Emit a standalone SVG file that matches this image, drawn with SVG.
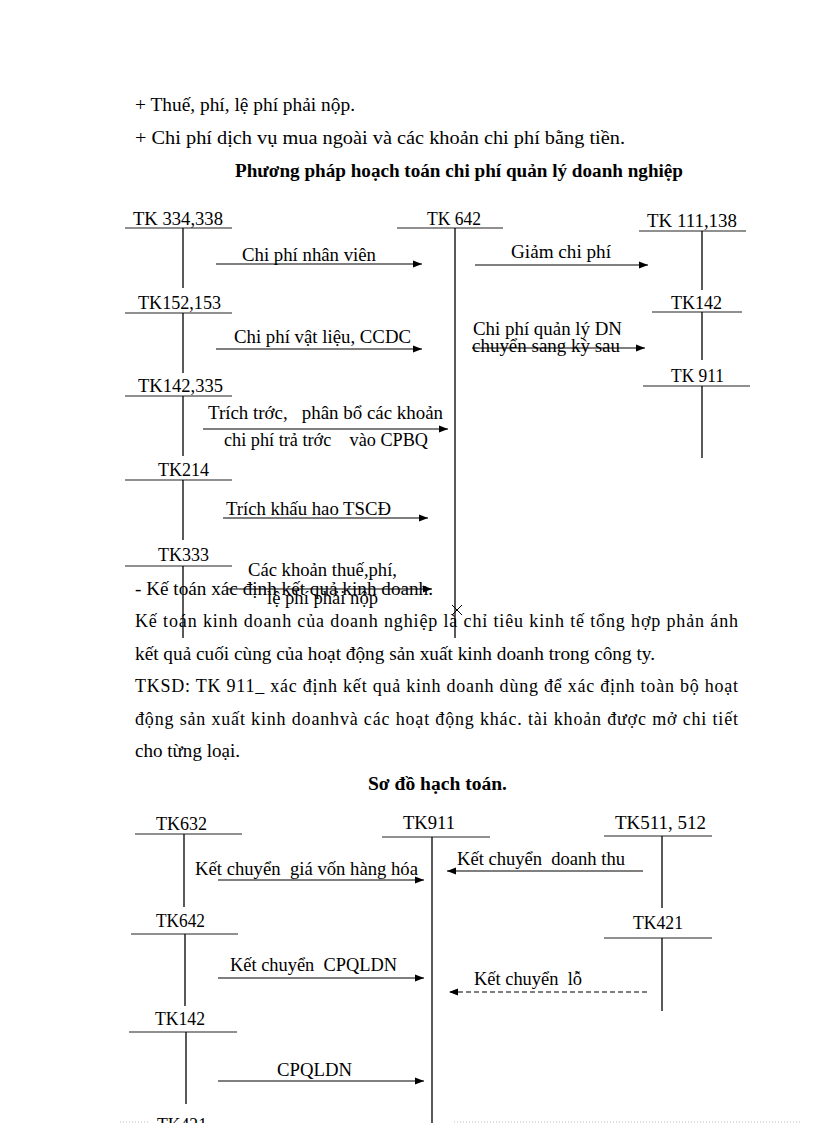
<svg xmlns="http://www.w3.org/2000/svg" width="816" height="1123" viewBox="0 0 816 1123">
<style>
text{font-family:"Liberation Serif","Times New Roman",serif;font-size:18px;fill:#000;white-space:pre}
.b{font-weight:bold}
.h{stroke:#222;stroke-width:1.2;fill:none}
.v{stroke:#000;stroke-width:1.3;fill:none}
.c{stroke:#000;stroke-width:1.2;fill:none;marker-end:url(#ah)}
.d{stroke-dasharray:5 3}
.pg{stroke:#bbb;stroke-width:1;stroke-dasharray:1 2}
</style>
<defs>
<marker id="ah" markerUnits="userSpaceOnUse" markerWidth="10" markerHeight="8" refX="9" refY="4" orient="auto">
<path d="M0,0.5 L9,4 L0,7.5 z" fill="#000"/>
</marker>
</defs>
<rect width="816" height="1123" fill="#fff"/>

<g id="intro">
<text x="135" y="111" textLength="220" lengthAdjust="spacingAndGlyphs">+ Thuế, phí, lệ phí phải nộp.</text>
<text x="135" y="144" textLength="490" lengthAdjust="spacingAndGlyphs">+ Chi phí dịch vụ mua ngoài và các khoản chi phí bằng tiền.</text>
<text x="235" y="177" class="b" textLength="448" lengthAdjust="spacingAndGlyphs">Phương pháp hoạch toán chi phí quản lý doanh nghiệp</text>
</g>

<g id="tk334-338"><text x="133" y="225" textLength="90" lengthAdjust="spacingAndGlyphs">TK 334,338</text><line class="h" x1="125" y1="228" x2="232" y2="228"/><line class="v" x1="183" y1="228" x2="183" y2="288"/></g>
<g id="tk152-153"><text x="138" y="309" textLength="83" lengthAdjust="spacingAndGlyphs">TK152,153</text><line class="h" x1="125" y1="313" x2="232" y2="313"/><line class="v" x1="183" y1="313" x2="183" y2="373"/></g>
<g id="tk142-335"><text x="138" y="392" textLength="85" lengthAdjust="spacingAndGlyphs">TK142,335</text><line class="h" x1="125" y1="396" x2="232" y2="396"/><line class="v" x1="183" y1="396" x2="183" y2="456"/></g>
<g id="tk214"><text x="158" y="476" textLength="51" lengthAdjust="spacingAndGlyphs">TK214</text><line class="h" x1="125" y1="480" x2="232" y2="480"/><line class="v" x1="183" y1="480" x2="183" y2="540"/></g>
<g id="tk333"><text x="158" y="561" textLength="51" lengthAdjust="spacingAndGlyphs">TK333</text><line class="h" x1="125" y1="566" x2="232" y2="566"/><line class="v" x1="183" y1="566" x2="183" y2="638"/></g>
<g id="tk642"><text x="427" y="225" textLength="54" lengthAdjust="spacingAndGlyphs">TK 642</text><line class="h" x1="397" y1="228" x2="503" y2="228"/><line class="v" x1="455" y1="228" x2="455" y2="638"/></g>
<g id="tk111-138"><text x="647" y="227" textLength="90" lengthAdjust="spacingAndGlyphs">TK 111,138</text><line class="h" x1="639" y1="231" x2="746" y2="231"/><line class="v" x1="702" y1="231" x2="702" y2="290"/></g>
<g id="tk142-r"><text x="671" y="309" textLength="51" lengthAdjust="spacingAndGlyphs">TK142</text><line class="h" x1="652" y1="312" x2="742" y2="312"/><line class="v" x1="702" y1="312" x2="702" y2="360"/></g>
<g id="tk911-r"><text x="671" y="382" textLength="53" lengthAdjust="spacingAndGlyphs">TK 911</text><line class="h" x1="643" y1="386" x2="750" y2="386"/><line class="v" x1="702" y1="386" x2="702" y2="458"/></g>

<g id="connectors1">
<line class="c" x1="216" y1="264" x2="422" y2="264"/>
<line class="c" x1="216" y1="349" x2="422" y2="349"/>
<line class="c" x1="203" y1="429" x2="448" y2="429"/>
<line class="c" x1="223" y1="518" x2="428" y2="518"/>
<line class="c" x1="228" y1="589" x2="432" y2="589"/>
<line class="c" x1="475" y1="265" x2="648" y2="265"/>
<line class="c" x1="472" y1="348" x2="645" y2="348"/>
</g>
<g id="labels1">
<text x="242" y="261" textLength="134" lengthAdjust="spacingAndGlyphs">Chi phí nhân viên</text>
<text x="234" y="343" textLength="177" lengthAdjust="spacingAndGlyphs">Chi phí vật liệu, CCDC</text>
<text x="208" y="419" textLength="235" lengthAdjust="spacingAndGlyphs">Trích trớc,   phân bổ các khoản</text>
<text x="224" y="446" textLength="204" lengthAdjust="spacingAndGlyphs">chi phí trả trớc    vào CPBQ</text>
<text x="226" y="515" textLength="165" lengthAdjust="spacingAndGlyphs">Trích khấu hao TSCĐ</text>
<text x="248" y="576" textLength="149" lengthAdjust="spacingAndGlyphs">Các khoản thuế,phí,</text>
<text x="267" y="604" textLength="111" lengthAdjust="spacingAndGlyphs">lệ phí phải nộp</text>
<text x="511" y="258" textLength="100" lengthAdjust="spacingAndGlyphs">Giảm chi phí</text>
<text x="473" y="335" textLength="149" lengthAdjust="spacingAndGlyphs">Chi phí quản lý DN</text>
<text x="472" y="352" textLength="148" lengthAdjust="spacingAndGlyphs">chuyển sang kỳ sau</text>
</g>
<g id="xmark"><line x1="452" y1="605" x2="462" y2="615" stroke="#000"/><line x1="452" y1="615" x2="462" y2="605" stroke="#000"/></g>

<g id="paragraph">
<text x="135" y="595" textLength="298" lengthAdjust="spacingAndGlyphs">- Kế toán xác định kết quả kinh doanh.</text>
<text x="135" y="627" textLength="603" lengthAdjust="spacing">Kế toán kinh doanh của doanh nghiệp là chỉ tiêu kinh tế tổng hợp phản ánh</text>
<text x="135" y="660" textLength="520" lengthAdjust="spacingAndGlyphs">kết quả cuối cùng của hoạt động sản xuất kinh doanh trong công ty.</text>
<text x="135" y="692" textLength="603" lengthAdjust="spacing">TKSD: TK 911_ xác định kết quả kinh doanh dùng để xác định toàn bộ hoạt</text>
<text x="135" y="725" textLength="603" lengthAdjust="spacing">động sản xuất kinh doanhvà các hoạt động khác. tài khoản được mở chi tiết</text>
<text x="135" y="757" textLength="105" lengthAdjust="spacingAndGlyphs">cho từng loại.</text>
<text x="368" y="790" class="b" textLength="139" lengthAdjust="spacingAndGlyphs">Sơ đồ hạch toán.</text>
</g>

<g id="tk632"><text x="156" y="830" textLength="51" lengthAdjust="spacingAndGlyphs">TK632</text><line class="h" x1="135" y1="834" x2="242" y2="834"/><line class="v" x1="184" y1="834" x2="184" y2="907"/></g>
<g id="tk911"><text x="403" y="829" textLength="52" lengthAdjust="spacingAndGlyphs">TK911</text><line class="h" x1="382" y1="837" x2="490" y2="837"/><line class="v" x1="432" y1="837" x2="432" y2="1123"/></g>
<g id="tk511-512"><text x="615" y="829" textLength="91" lengthAdjust="spacingAndGlyphs">TK511, 512</text><line class="h" x1="604" y1="836" x2="712" y2="836"/><line class="v" x1="662" y1="836" x2="662" y2="908"/></g>
<g id="tk642-b"><text x="156" y="927" textLength="49" lengthAdjust="spacingAndGlyphs">TK642</text><line class="h" x1="131" y1="934" x2="238" y2="934"/><line class="v" x1="185" y1="934" x2="185" y2="1006"/></g>
<g id="tk421-r"><text x="633" y="929" textLength="50" lengthAdjust="spacingAndGlyphs">TK421</text><line class="h" x1="604" y1="938" x2="712" y2="938"/><line class="v" x1="662" y1="938" x2="662" y2="1011"/></g>
<g id="tk142-b"><text x="155" y="1025" textLength="50" lengthAdjust="spacingAndGlyphs">TK142</text><line class="h" x1="129" y1="1032" x2="237" y2="1032"/><line class="v" x1="186" y1="1032" x2="186" y2="1104"/></g>
<g id="tk421-b"><text x="157" y="1131" textLength="50" lengthAdjust="spacingAndGlyphs">TK421</text></g>

<g id="connectors2">
<line class="c" x1="218" y1="880" x2="424" y2="880"/>
<line class="c" x1="643" y1="871" x2="447" y2="871"/>
<line class="c" x1="218" y1="978" x2="424" y2="978"/>
<line class="c d" x1="647" y1="992" x2="449" y2="992"/>
<line class="c" x1="218" y1="1081" x2="424" y2="1081"/>
</g>
<g id="labels2">
<text x="195" y="875" textLength="223" lengthAdjust="spacingAndGlyphs">Kết chuyển  giá vốn hàng hóa</text>
<text x="457" y="865" textLength="168" lengthAdjust="spacingAndGlyphs">Kết chuyển  doanh thu</text>
<text x="230" y="971" textLength="167" lengthAdjust="spacingAndGlyphs">Kết chuyển  CPQLDN</text>
<text x="474" y="985" textLength="108" lengthAdjust="spacingAndGlyphs">Kết chuyển  lỗ</text>
<text x="277" y="1076" textLength="75" lengthAdjust="spacingAndGlyphs">CPQLDN</text>
</g>
<g id="pageedge"><line class="pg" x1="120" y1="1122" x2="150" y2="1122"/><line class="pg" x1="454" y1="1122" x2="800" y2="1122"/></g>
</svg>
